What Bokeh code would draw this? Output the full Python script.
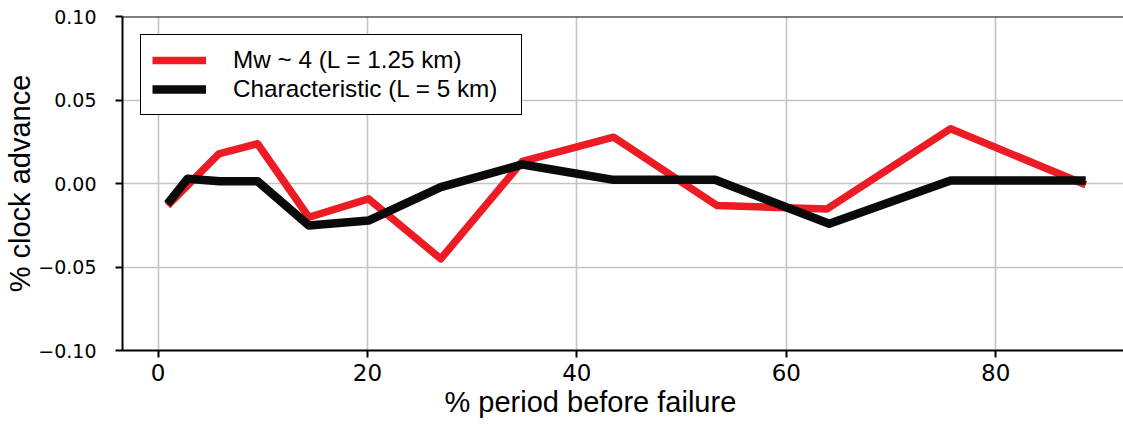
from bokeh.plotting import figure
from bokeh.models import Range1d, FixedTicker, Legend, LegendItem, Span, Title
from bokeh.embed import file_html
from bokeh.resources import INLINE

# ---- data ----
red_label = "Mw ~ 4 (L = 1.25 km)"
red_x = [0.9, 5.8, 9.5, 14.4, 20.1, 27.0, 34.8, 43.5, 53.4, 63.9, 75.7, 88.6]
red_y = [-0.0132, 0.0178, 0.0238, -0.0202, -0.0092, -0.0451, 0.0132, 0.0277,
         -0.0132, -0.0152, 0.0328, -0.0008]

black_label = "Characteristic (L = 5 km)"
black_x = [0.9, 2.8, 5.9, 9.5, 14.4, 20.1, 27.0, 34.8, 43.5, 53.2, 64.1, 75.7, 88.6]
black_y = [-0.0122, 0.0028, 0.0014, 0.0014, -0.0251, -0.0222, -0.0022, 0.0114,
           0.0022, 0.0022, -0.0241, 0.0018, 0.0018]

x_ticks = [0, 20, 40, 60, 80]
y_ticks = [-0.10, -0.05, 0.0, 0.05, 0.10]
y_tick_labels = ["\u22120.10", "\u22120.05", "0.00", "0.05", "0.10"]

x_title = "% period before failure"
y_title = "% clock advance"

TITLE_FONT = "Liberation Sans"

# ---- figure ----
W, H = 1123, 425
p = figure(width=W, height=H, output_backend="svg", toolbar_location=None,
           x_range=Range1d(-3.40, 92.21), y_range=Range1d(-0.10, 0.10),
           min_border_left=122, min_border_right=0, min_border_top=16,
           min_border_bottom=75)
p.outline_line_color = None
p.background_fill_color = "white"
p.border_fill_color = "white"

r_red = p.line(red_x, red_y, line_color="#ED1C24", line_width=7.5,
               line_join="round", line_cap="butt")
r_black = p.line(black_x, black_y, line_color="#0A0A0A", line_width=8.5,
                 line_join="round", line_cap="butt")

# axes
p.xaxis.ticker = FixedTicker(ticks=x_ticks)
p.yaxis.ticker = FixedTicker(ticks=y_ticks)
p.yaxis.major_label_overrides = dict(zip(y_ticks, y_tick_labels))
for ax in (p.xaxis[0], p.yaxis[0]):
    ax.axis_line_width = 2
    ax.axis_line_color = "black"
    ax.major_tick_line_width = 2
    ax.major_tick_line_color = "black"
    ax.major_tick_in = 0
    ax.major_tick_out = 7
    ax.minor_tick_line_color = None
    ax.major_label_text_font = "DejaVu Sans"
    ax.major_label_text_color = "black"

p.xaxis.major_label_text_font_size = "23px"
p.xaxis.major_label_standoff = 6

p.yaxis.major_label_text_font_size = "19px"
p.yaxis.major_label_standoff = 19
p.yaxis.axis_label = y_title
p.yaxis.axis_label_text_font = TITLE_FONT
p.yaxis.axis_label_text_font_style = "normal"
p.yaxis.axis_label_text_color = "black"
p.yaxis.axis_label_text_font_size = "29px"
p.yaxis.axis_label_standoff = -1

# x-axis title, below the tick labels
p.add_layout(Title(text=x_title, align="left", offset=322, vertical_align="bottom",
                   standoff=0, text_font=TITLE_FONT, text_font_size="29px",
                   text_font_style="normal", text_color="black"), "below")

# top spine
p.add_layout(Span(location=0.10, dimension="width", line_color="black",
                  line_width=2))

# grid
p.xgrid.grid_line_color = "#c4c4c4"
p.xgrid.grid_line_width = 1.6
p.ygrid.grid_line_color = "#c4c4c4"
p.ygrid.grid_line_width = 1.6

# legend
legend = Legend(items=[LegendItem(label=red_label, renderers=[r_red]),
                       LegendItem(label=black_label, renderers=[r_black])],
                location="top_left")
legend.margin = 18
legend.padding = 11
legend.spacing = 1
legend.glyph_width = 54
legend.glyph_height = 20
legend.label_height = 20
legend.label_width = 277
legend.label_standoff = 27
legend.label_text_font = TITLE_FONT
legend.label_text_font_size = "24.3px"
legend.label_text_color = "black"
legend.border_line_color = "black"
legend.border_line_width = 1.5
legend.border_line_alpha = 1.0
legend.background_fill_color = "white"
legend.background_fill_alpha = 1.0
p.add_layout(legend)

open("out.html", "w").write(file_html(p, INLINE))
